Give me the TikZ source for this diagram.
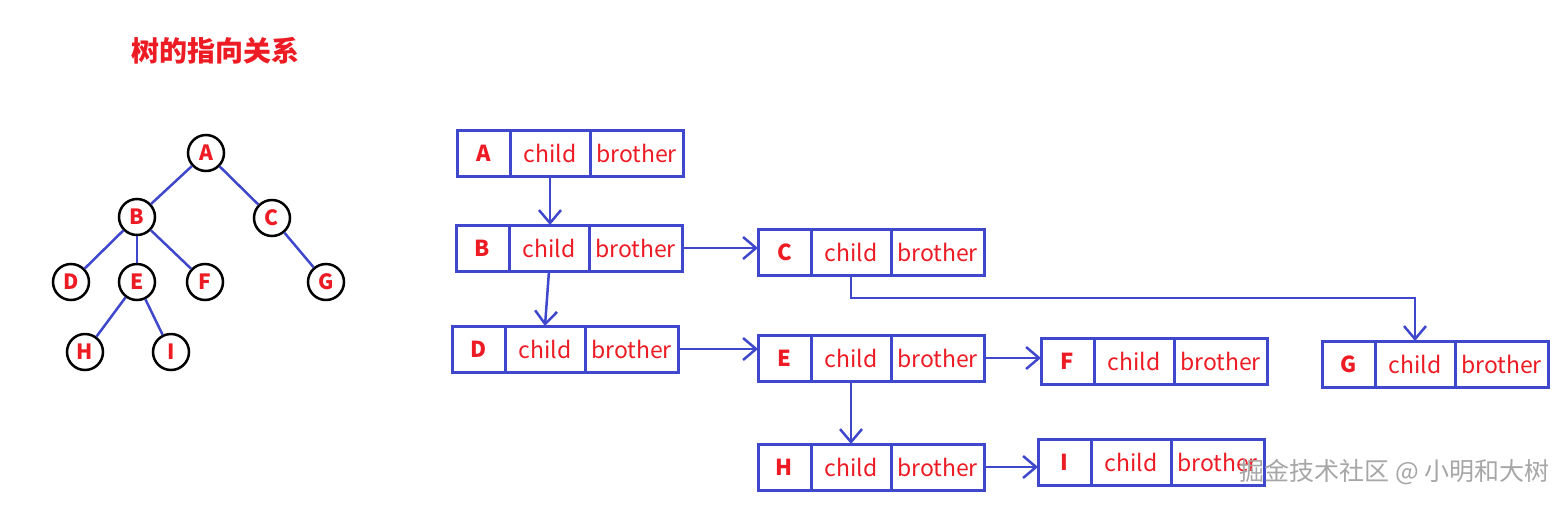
\documentclass[tikz,border=0pt]{standalone}
\usepackage{fontspec}
\setmainfont{Noto Sans CJK SC}
\usetikzlibrary{arrows.meta,positioning}
\definecolor{pblue}{RGB}{63,72,204}
\definecolor{pred}{RGB}{237,28,36}

\begin{document}
\begin{tikzpicture}[x=1pt,y=-1pt,
  vert/.style={circle,draw=black,line width=2.5pt,minimum size=36pt,inner sep=0pt,text=pred,font=\bfseries\fontsize{21}{23}\selectfont},
  edge/.style={draw=pblue,line width=2.5pt},
  cell/.style={draw=pblue,line width=3pt,minimum height=46pt,inner sep=0pt,outer sep=0pt,text=pred,font=\fontsize{23}{26}\selectfont},
  key/.style={cell,minimum width=53pt,font=\bfseries\fontsize{22}{25}\selectfont},
  cf/.style={cell,minimum width=80pt},
  bf/.style={cell,minimum width=93pt},
  arr/.style={-{Straight Barb[length=13pt,width=22pt]},draw=pblue,line width=2.5pt},
  node distance=0pt]
\useasboundingbox (0,0) rectangle (1564,504);
\node[text=pred,font=\bfseries\fontsize{28}{32}\selectfont] (title) at (215,51) {树的指向关系};
% tree
\node[vert] (tA) at (206,153) {A};
\node[vert] (tB) at (137,217) {B};
\node[vert] (tC) at (272,218) {C};
\node[vert] (tD) at (71,282) {D};
\node[vert] (tE) at (137,282) {E};
\node[vert] (tF) at (205,282) {F};
\node[vert] (tG) at (326,282) {G};
\node[vert] (tH) at (85,352) {H};
\node[vert] (tI) at (171,352) {I};
\draw[edge] (tA)--(tB);
\draw[edge] (tA)--(tC);
\draw[edge] (tB)--(tD);
\draw[edge] (tB)--(tE);
\draw[edge] (tB)--(tF);
\draw[edge] (tC)--(tG);
\draw[edge] (tE)--(tH);
\draw[edge] (tE)--(tI);
% child-brother records
\node[key,anchor=west] (A) at (457,153) {A};
\node[cf,right=of A] (Ac) {child};
\node[bf,right=of Ac] (Ab) {brother};
\node[key,anchor=west] (B) at (456,248) {B};
\node[cf,right=of B] (Bc) {child};
\node[bf,right=of Bc] (Bb) {brother};
\node[key,anchor=west] (C) at (758,252) {C};
\node[cf,right=of C] (Cc) {child};
\node[bf,right=of Cc] (Cb) {brother};
\node[key,anchor=west] (D) at (452,349) {D};
\node[cf,right=of D] (Dc) {child};
\node[bf,right=of Dc] (Db) {brother};
\node[key,anchor=west] (E) at (758,358) {E};
\node[cf,right=of E] (Ec) {child};
\node[bf,right=of Ec] (Eb) {brother};
\node[key,anchor=west] (F) at (1041,361) {F};
\node[cf,right=of F] (Fc) {child};
\node[bf,right=of Fc] (Fb) {brother};
\node[key,anchor=west] (G) at (1322,364) {G};
\node[cf,right=of G] (Gc) {child};
\node[bf,right=of Gc] (Gb) {brother};
\node[key,anchor=west] (H) at (758,467) {H};
\node[cf,right=of H] (Hc) {child};
\node[bf,right=of Hc] (Hb) {brother};
\node[key,anchor=west] (I) at (1038,462) {I};
\node[cf,right=of I] (Ic) {child};
\node[bf,right=of Ic] (Ib) {brother};
\draw[arr] (Ac.south)--(Ac.south |- Bc.north);
\draw[arr] (Bc.south)--(Dc.north);
\draw[arr] (Bb.east)--(C.west |- Bb.east);
\draw[arr] (Cc.south)--++(0,23)-|(Gc.north);
\draw[arr] (Db.east)--(E.west |- Db.east);
\draw[arr] (Eb.east)--(F.west |- Eb.east);
\draw[arr] (Ec.south)--(Ec.south |- Hc.north);
\draw[arr] (Hb.east)--(I.west |- Hb.east);
\node[text=gray!70,font=\fontsize{25}{28}\selectfont,anchor=west] (mark) at (1236,472) {掘金技术社区 @ 小明和大树};
\end{tikzpicture}
\end{document}
